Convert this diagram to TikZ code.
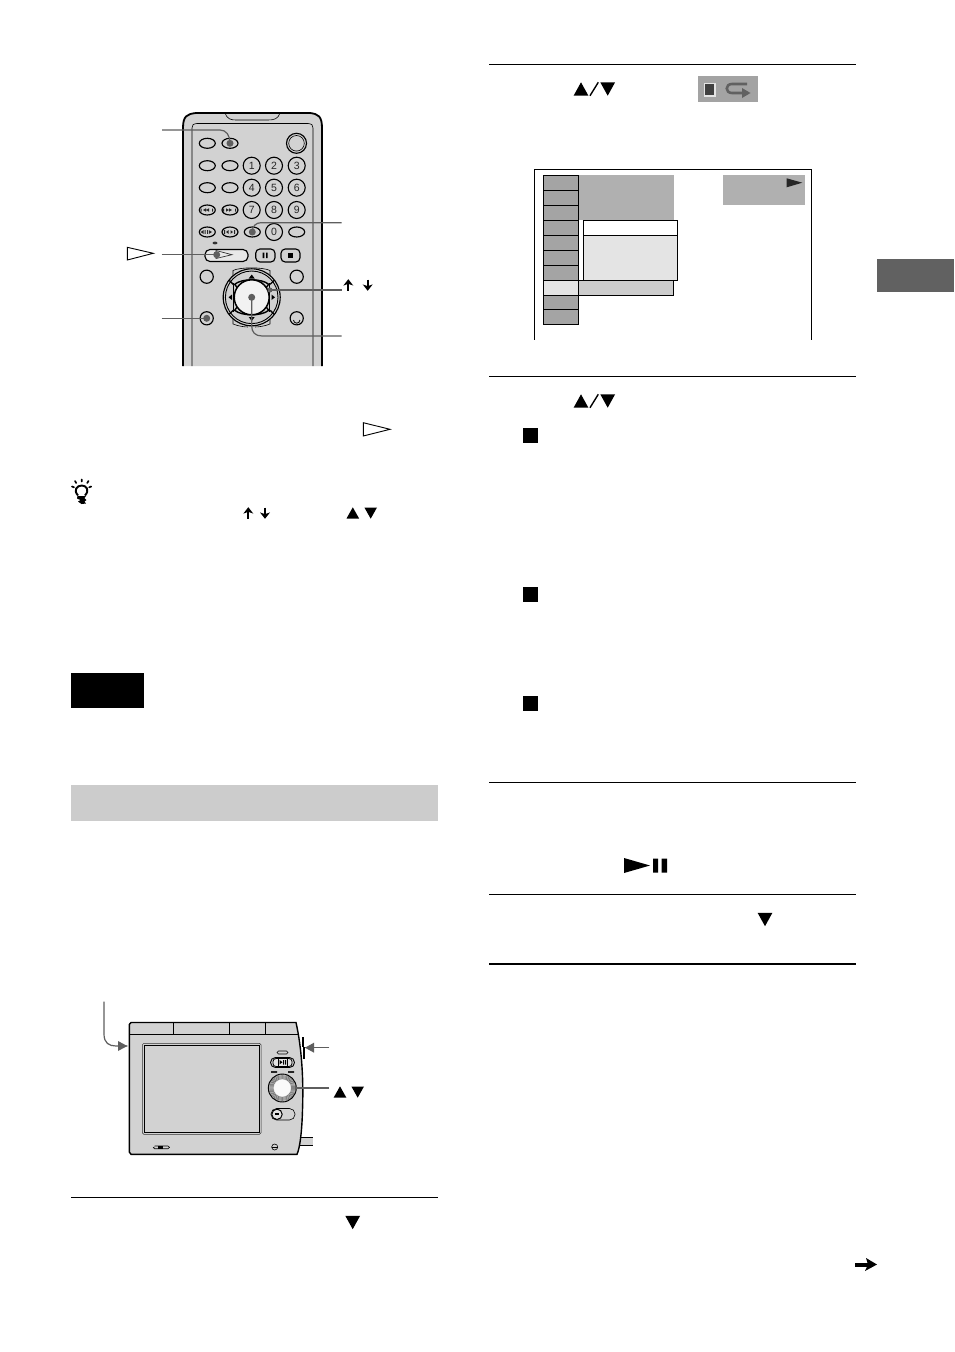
\documentclass[tikz,border=0pt]{standalone}
\usepackage{fontspec}
\setmainfont{Liberation Sans}
\usetikzlibrary{arrows.meta}
\definecolor{bodyg}{HTML}{D2D2D2}
\definecolor{lead}{HTML}{5E5E5E}
\definecolor{cellg}{HTML}{A4A4A4}
\definecolor{blockg}{HTML}{B0B0B0}
\definecolor{paleg}{HTML}{E4E4E4}
\definecolor{bandg}{HTML}{CCCCCC}
\tikzset{
  rule/.style={draw=black,line width=0.6pt},
  thinl/.style={draw=black,line width=0.6pt},
  btn/.style={draw=black,line width=1.15pt},
  keyb/.style={draw=black,line width=1.15pt,fill=bodyg,rounded corners=3.6pt},
  leader/.style={draw=lead,line width=1.2pt},
  cell/.style={draw=black,line width=0.75pt,fill=cellg},
  numk/.style={circle,draw=black,line width=1.1pt,fill=bodyg,minimum size=17pt,inner sep=0pt,font=\fontsize{10.5}{11}\selectfont,text=black!85},
  dotm/.style={circle,fill=lead,draw=none,minimum size=7pt,inner sep=0pt}
}
\newcommand{\upT}[2]{\fill[black] (#1-6.3,#2+5.5) -- (#1+6.3,#2+5.5) -- (#1,#2-5.7) -- cycle;}
\newcommand{\dnT}[2]{\fill[black] (#1-6.3,#2-5.5) -- (#1+6.3,#2-5.5) -- (#1,#2+5.7) -- cycle;}
\newcommand{\upB}[2]{\fill[black] (#1-7.4,#2+6.7) -- (#1+7.4,#2+6.7) -- (#1,#2-6.7) -- cycle;}
\newcommand{\dnB}[2]{\fill[black] (#1-7.4,#2-6.7) -- (#1+7.4,#2-6.7) -- (#1,#2+6.7) -- cycle;}
\newcommand{\upA}[2]{\draw[line width=1.9pt,black] (#1,#2+5.5) -- (#1,#2-3); \fill[black] (#1-5,#2+0.6) -- (#1,#2-5.8) -- (#1+5,#2+0.6) -- (#1+1,#2-0.8)--(#1-1,#2-0.8)-- cycle;}
\newcommand{\dnA}[2]{\draw[line width=1.9pt,black] (#1,#2-5.5) -- (#1,#2+3); \fill[black] (#1-5,#2-0.6) -- (#1,#2+5.8) -- (#1+5,#2-0.6) -- (#1+1,#2+0.8)--(#1-1,#2+0.8)-- cycle;}
\newcommand{\ovk}[2]{\draw[btn,fill=bodyg] (#1,#2) ellipse (8 and 5);}
\begin{document}
\begin{tikzpicture}[x=1pt,y=-1pt]
\useasboundingbox[fill=white] (0,0) rectangle (954,1352);

%%% page furniture
\draw[rule] (489,64.5) -- (856,64.5);
\draw[rule] (489,376.5) -- (856,376.5);
\draw[rule] (489,782.5) -- (856,782.5);
\draw[rule] (489,894.5) -- (856,894.5);
\draw[draw=black,line width=1.2pt] (489,964) -- (856,964);
\draw[rule] (71,1197.5) -- (438,1197.5);
\fill[black] (71,673) rectangle (144,708);
\fill[bandg] (71,785) rectangle (438,821);
\fill[black!62] (877,259) rectangle (954,292);

%%% remote
\fill[bodyg] (183,366) -- (183,128) .. controls (183,116) and (187,114) .. (196,113) -- (310,113) .. controls (318,114) and (322,116) .. (322,128) -- (322,366) -- cycle;
\draw[draw=black,line width=1.8pt] (183,366) -- (183,128) .. controls (183,116) and (187,114) .. (196,113) -- (310,113) .. controls (318,114) and (322,116) .. (322,128) -- (322,366);
\draw[thinl] (192,366) -- (192,128) .. controls (192,125) and (193,124) .. (197,123.5) -- (308,123.5) .. controls (312,124) and (313,125) .. (313,128) -- (313,366);
\draw[thinl] (225,113) .. controls (227,119) and (231,120) .. (236,120) -- (268,120) .. controls (274,120) and (278,119) .. (280,113);
\ovk{207.3}{143.3}
\ovk{230}{143.3}
\draw[btn,fill=bodyg] (296.5,143.3) circle (10);
\draw[thinl] (296.5,143.3) circle (7.8);
\ovk{207.3}{165.7}\ovk{230}{165.7}
\ovk{207.3}{187.7}\ovk{230}{187.7}
\ovk{207.3}{210}\ovk{230}{210}
\ovk{207.3}{232}\ovk{230}{232}
\ovk{252.3}{232}
\ovk{296.7}{232}
\node[numk] (n1) at (251.7,165.7) {1};
\node[numk] (n2) at (274,165.7) {2};
\node[numk] (n3) at (296.7,165.7) {3};
\node[numk] (n4) at (251.7,187.7) {4};
\node[numk] (n5) at (274,187.7) {5};
\node[numk] (n6) at (296.7,187.7) {6};
\node[numk] (n7) at (251.7,210) {7};
\node[numk] (n8) at (274,210) {8};
\node[numk] (n9) at (296.7,210) {9};
\node[numk] (n0) at (274,232) {0};
% transport glyphs
\fill[black!85] (200.5,208.5) rectangle (201.5,211.5) (203,210) -- (206,208.3) -- (206,211.7) -- cycle (206,210) -- (209,208.3) -- (209,211.7) -- cycle (212,208.5) rectangle (213,211.5);
\fill[black!85] (223,208.5) rectangle (224,211.5) (226,208.3) -- (229,210) -- (226,211.7) -- cycle (229,208.3) -- (232,210) -- (229,211.7) -- cycle (235,208.5) rectangle (236,211.5);
\fill[black!85] (200.5,232) -- (203.5,230.2) -- (203.5,233.8) -- cycle (204.5,230.2) rectangle (205.5,233.8) (207,230.2) rectangle (208,233.8) (209,230.2) -- (212,232) -- (209,233.8) -- cycle;
\fill[black!85] (224,230.2) rectangle (225,233.8) (226,232) -- (228.5,230.2) -- (228.5,233.8) -- cycle (230.5,230.2) -- (233,232) -- (230.5,233.8) -- cycle (234,230.2) rectangle (235,233.8);
\fill[black!80] (215,243) ellipse (2.5 and 1.4);
\draw[keyb,fill=white!50!bodyg,rounded corners=5pt] (205,249.5) rectangle (248,261.5);
\draw[black!80,line width=0.7pt] (216,250.5) -- (216,258.5) -- (232,254.7) -- cycle;
\draw[keyb,fill=bodyg,rounded corners=4.2pt] (255.7,249) rectangle (275,262);
\fill[black] (262.6,252.7) rectangle (264.3,258) (266,252.7) rectangle (267.7,258);
\draw[keyb,rounded corners=4.2pt] (281,249) rectangle (300,262);
\fill[black] (288.2,253) rectangle (292.8,257.8);
\draw[btn,fill=bodyg] (206.7,276.7) circle (6.6);
\draw[btn,fill=bodyg] (296.7,276.7) circle (6.6);
\draw[btn,fill=bodyg] (206.7,318.3) circle (6.6);
\draw[btn,fill=bodyg] (296.7,318.3) circle (6.6);
\draw[draw=black,line width=0.8pt] (293.5,320) arc (180:0:3.2);
% navigation cluster
\coordinate (nav) at (251.7,297.3);
\draw[thinl] (233,277) -- (233,270.5) .. controls (240,267) and (263,267) .. (270,270.5) -- (270,277);
\draw[thinl] (233,318) -- (233,324) .. controls (238,326) and (244,327) .. (248,327);
\draw[thinl] (270,318) -- (270,324) .. controls (265,326) and (259,327) .. (255,327);
\draw[btn,fill=bodyg] (nav) circle (28.5);
\draw[draw=black,line width=0.9pt] (nav) circle (26.3);
\draw[line width=1.4pt,black,fill=bodyg] (nav)++(-17,-13) .. controls ++(7,-6) and ++(-7,-6) .. ++(34,0) -- ++(-3,4) -- ++(-28,0) -- cycle;
\draw[line width=1.4pt,black,fill=bodyg] (nav)++(-17,13) .. controls ++(7,6) and ++(-7,6) .. ++(34,0) -- ++(-3,-4) -- ++(-28,0) -- cycle;
\draw[line width=1.4pt,black] (nav)++(-18.5,-13) -- ++(-4,-4) (nav)++(18.5,-13) -- ++(4,-4) (nav)++(-18.5,13) -- ++(-4,4) (nav)++(18.5,13) -- ++(4,4);
\draw[line width=1.3pt,black] (233.7,283) -- (233.7,312);
\draw[line width=1.3pt,black] (269.7,283) -- (269.7,312);
\draw[line width=1.5pt,black,fill=white!70!bodyg] (nav) circle (17.5);
\fill[black] (251.7,274.5) -- (248.7,278.5) -- (254.7,278.5) -- cycle (251.7,321) -- (248.7,317) -- (254.7,317) -- cycle (228.5,297.3) -- (232,294.5) -- (232,300) -- cycle (275,297.3) -- (271.5,294.5) -- (271.5,300) -- cycle;
% leaders
\coordinate (r1a) at (162,130);
\coordinate (r1b) at (230,143.3);
\coordinate (r2a) at (341.7,222.7);
\coordinate (r2b) at (252.3,232);
\coordinate (r3a) at (161.7,254.7);
\coordinate (r3b) at (216.7,254.7);
\coordinate (r4a) at (161.7,318.3);
\coordinate (r4b) at (206.7,318.3);
\coordinate (r5a) at (341.7,290);
\coordinate (r5b) at (270,290);
\coordinate (r6a) at (341.7,336);
\coordinate (r6b) at (251.7,297.3);
\draw[leader] (r1a) -- (220,130) .. controls (226,130) and (230,135) .. (r1b);
\draw[leader] (r2a) -- (261,222.7) .. controls (256,222.7) and (252.3,226) .. (r2b);
\draw[leader] (r3a) -- (r3b);
\draw[leader] (r4a) -- (r4b);
\draw[leader] (r5a) -- (r5b);
\draw[leader] (r6a) -- (262,336) .. controls (255,336) and (251.7,332) .. (251.7,326) -- (r6b);
\foreach \c in {r1b,r2b,r3b,r4b,r6b} \node[dotm] at (\c) {};
\node[dotm,minimum size=5pt] at (r5b) {};
% labels next to remote
\draw[draw=black,line width=0.9pt] (127.3,247.3) -- (127.3,260) -- (153.3,253.3) -- cycle;
\upA{348.3}{285}
\dnA{367.7}{285}

%%% tip & symbols
\draw[draw=black,line width=0.9pt] (363.3,422.7) -- (363.3,436) -- (390,429.3) -- cycle;
\upA{248.3}{513}
\dnA{265}{513}
\upT{352.8}{513}
\dnT{370.7}{513}
% bulb
\draw[black,line width=1.9pt] (78,495.5) .. controls (73,490) and (77,485.5) .. (81.7,485.5) .. controls (86.4,485.5) and (90,490) .. (85,495.5);
\fill[black] (77.5,496) -- (86,496) -- (84.5,498) -- (86.5,500) -- (84.5,501.5) -- (86,503.5) -- (81.5,504) -- (78,501.5) -- (80.5,500) -- (77,498.5) -- cycle;
\draw[black,line width=1.7pt,line cap=round] (81.7,479.5) -- (81.7,481.5) (75,481) -- (76.2,483) (88.5,481) -- (87.2,483) (72,486.5) -- (74,487.3) (91.2,486.5) -- (89.2,487.3);

%%% right column
\upB{581}{89}
\draw[black,line width=1.4pt] (590,95.7) -- (598.3,82.3);
\dnB{607.7}{89}
\upB{581}{401}
\draw[black,line width=1.4pt] (590,407.7) -- (598.3,394.3);
\dnB{607.7}{401}
% repeat icon
\fill[black!36] (698.3,76) rectangle (757.7,101.7);
\fill[paleg] (703.5,82.5) rectangle (716,97);
\fill[black!75] (705,84) rectangle (714.3,95);
\draw[black!62,line width=2.6pt] (747,84) -- (732,84) .. controls (725,84) and (725,93) .. (732,93) -- (743,93);
\fill[black!62] (742,88) -- (750.5,93) -- (742,98) -- cycle;
% screen
\draw[draw=black,line width=0.8pt] (534.3,339.5) -- (534.3,169.3) -- (811.7,169.3) -- (811.7,339.5);
\fill[blockg] (578.3,175.3) rectangle (674,220.3);
\fill[blockg] (723,175.3) rectangle (805,205);
\fill[black!85] (786.7,178.3) -- (786.7,187.3) -- (802.3,182.7) -- cycle;
\foreach \a/\b in {175.3/190.3,190.3/205.3,205.3/220.3,220.3/235.3,235.3/250.3,250.3/265.3,265.3/280.3,295.3/309.3,309.3/324.3}
  \draw[cell] (543.3,\a) rectangle (578.3,\b);
\draw[cell,fill=bandg] (578.3,280.3) rectangle (673.7,295.3);
\draw[cell,fill=paleg] (543.3,280.3) rectangle (578.3,295.3);
\draw[cell,fill=white] (583.7,220.3) rectangle (677.7,235.3);
\draw[cell,fill=paleg] (583.7,235.3) rectangle (677.7,280.3);
% bullets
\fill[black] (523,428) rectangle (538,443);
\fill[black] (523,587) rectangle (538,602);
\fill[black] (523,696) rectangle (538,711);
% play pause
\fill[black] (624,858) -- (624,873) -- (650,865.5) -- cycle;
\fill[black] (653,858.5) rectangle (658,872.5) (661.5,858.5) rectangle (667,872.5);
\dnB{765}{919.5}
\dnB{352.7}{1222.5}
% continued arrow
\draw[black,line width=3.6pt] (855,1264.7) -- (870,1264.7);
\fill[black] (866,1258) -- (877,1264.5) -- (865,1271) -- (868,1264.5) -- cycle;

%%% device
\fill[bodyg] (300,1137.5) rectangle (313,1145.5);
\draw[draw=black,line width=0.8pt] (300,1137.5) -- (313,1137.5) (300,1145.5) -- (313,1145.5);
\fill[bodyg] (129.3,1024.5) -- (131,1022.5) -- (296,1022.5) .. controls (300,1040) and (304,1070) .. (302.5,1110) .. controls (302,1130) and (300,1148) .. (297,1154.3) -- (131,1154.3) -- (129.3,1152) -- cycle;
\draw[draw=black,line width=1.4pt] (129.3,1024.5) -- (131,1022.5) -- (296,1022.5) .. controls (300,1040) and (304,1070) .. (302.5,1110) .. controls (302,1130) and (300,1148) .. (297,1154.3) -- (131,1154.3) -- (129.3,1152) -- cycle;
\draw[thinl] (129.5,1034) -- (299,1034);
\draw[thinl] (173.3,1022.5) -- (173.3,1034);
\draw[thinl] (229.3,1022.5) -- (229.3,1034);
\draw[thinl] (265.7,1022.5) -- (265.7,1034);
\draw[draw=black!80,line width=0.5pt,rounded corners=1.5pt] (142.3,1043.3) rectangle (261,1134.3);
\draw[draw=black,line width=0.9pt] (144.3,1045.3) rectangle (259,1132.3);
% side buttons
\fill[black] (301.5,1037) rectangle (304,1047);
\fill[black] (302.5,1047) rectangle (304.5,1059);
% front controls
\draw[thinl,rounded corners=1.5pt] (277,1051) rectangle (288,1054);
\draw[draw=black,line width=0.9pt,rounded corners=5pt,fill=bodyg] (270.5,1057.5) rectangle (294.5,1067.5);
\draw[draw=black,line width=0.8pt,rounded corners=3pt,fill=paleg] (273,1058.5) rectangle (292,1066.5);
\draw[thinl] (278,1058.5) -- (278,1066.5) (287,1058.5) -- (287,1066.5);
\fill[black] (279.5,1060) -- (279.5,1064.5) -- (282.5,1062.2) -- cycle (283,1060) rectangle (284,1064.5) (285,1060) rectangle (286,1064.5);
\fill[black!85] (271,1071.2) rectangle (277,1072.8) (288,1071.2) rectangle (294,1072.8);
\fill[bodyg] (282.3,1088) circle (14);
\foreach \r in {13.4,12.4,11.4,10.4,9.4}
  \draw[draw=black!65,line width=0.4pt] (282.3,1088) circle (\r);
\draw[draw=black,line width=0.9pt] (282.3,1088) circle (14);
\fill[white!90!bodyg] (282.3,1088) circle (8.4);
\draw[thinl,rounded corners=5.5pt] (271,1108.5) rectangle (295,1120);
\draw[draw=black,line width=1pt,fill=white!40!bodyg] (277,1114.3) circle (5.2);
\fill[black] (275.3,1113.3) rectangle (278.7,1115.3);
\draw[thinl] (154.5,1147) .. controls (153,1146.3) and (153,1148.7) .. (154.5,1148.7) -- (168,1148.7) .. controls (170,1148.7) and (170,1146) .. (168,1146) -- (154.5,1146);
\fill[black] (158,1146.3) rectangle (163,1148.5);
\draw[thinl] (274.7,1147) circle (3);
\draw[black,line width=0.6pt] (271.7,1147) -- (277.7,1147);
% device leaders
\coordinate (d1a) at (104,1001.7);
\coordinate (d1b) at (127.3,1046);
\coordinate (d2a) at (329.3,1047.7);
\coordinate (d2b) at (305,1047.7);
\coordinate (d3a) at (329.3,1088);
\coordinate (d3b) at (295,1088);
\draw[leader] (d1a) -- (104,1034) .. controls (104,1043) and (109,1046) .. (116,1046) -- (d1b);
\fill[lead] (127.3,1046) -- (118,1041) -- (118,1051) -- cycle;
\draw[leader] (d2a) -- (d2b);
\fill[lead] (305,1047.7) -- (314,1042.7) -- (314,1052.7) -- cycle;
\draw[leader] (d3a) -- (d3b);
\upT{340}{1092}
\dnT{357.7}{1092}
\end{tikzpicture}
\end{document}
